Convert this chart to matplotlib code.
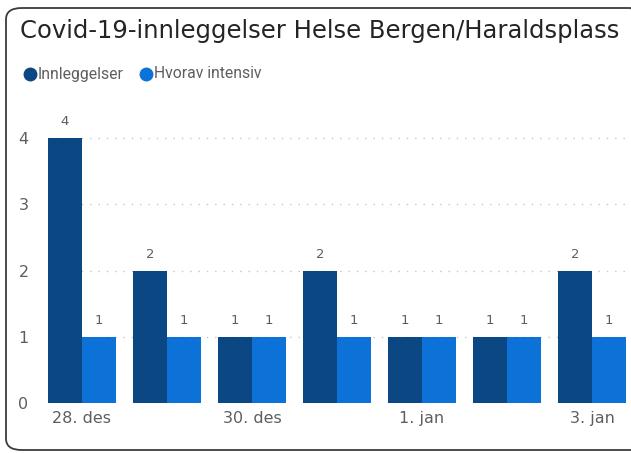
import numpy as np
import matplotlib.pyplot as plt
from matplotlib.patches import FancyBboxPatch
from matplotlib.lines import Line2D

dates = ["28. des", "29. des", "30. des", "31. des", "1. jan", "2. jan", "3. jan"]
innleggelser = [4, 2, 1, 2, 1, 1, 2]
intensiv = [1, 1, 1, 1, 1, 1, 1]
shown_ticks = ["28. des", "", "30. des", "", "1. jan", "", "3. jan"]

dark = "#0B4782"
light = "#0D72D8"
grey = "#605E5C"

W, H = 631, 453
fig = plt.figure(figsize=(W / 100, H / 100), dpi=100)

# card border
fig.patches.append(FancyBboxPatch((6 / W, 3 / H), 640 / W, 442 / H,
                                  boxstyle="round,pad=0,rounding_size=0.025",
                                  transform=fig.transFigure, fill=False,
                                  edgecolor="#3b3b3b", linewidth=1.3))

fig.text(20 / W, 1 - 31 / H, "Covid-19-innleggelser Helse Bergen/Haraldsplass",
         fontsize=17.5, color="#252423", va="center", ha="left", family="DejaVu Sans")

# legend
fig.add_artist(Line2D([30 / W], [1 - 74 / H], marker="o", markersize=9, color=dark,
                      transform=fig.transFigure))
fig.text(38 / W, 1 - 74 / H, "Innleggelser", fontsize=11.3, color=grey, va="center",
         family="Roboto")
fig.add_artist(Line2D([146 / W], [1 - 74 / H], marker="o", markersize=9, color=light,
                      transform=fig.transFigure))
fig.text(154 / W, 1 - 74 / H, "Hvorav intensiv", fontsize=11.3, color=grey, va="center",
         family="Roboto")

ax = fig.add_axes([48 / W, 50 / H, 578 / W, 288 / H])
x = np.arange(len(dates))
w = 0.4
b1 = ax.bar(x - w / 2, innleggelser, w, color=dark, zorder=3)
b2 = ax.bar(x + w / 2, intensiv, w, color=light, zorder=3)
ax.bar_label(b1, padding=7, color=grey, fontsize=9.5)
ax.bar_label(b2, padding=7, color=grey, fontsize=9.5)

ax.set_xlim(-0.4, len(dates) - 0.6)
ax.set_ylim(0, 4.35)
ax.set_yticks([0, 1, 2, 3, 4])
ax.set_xticks(x)
ax.set_xticklabels(shown_ticks)
ax.tick_params(length=0, colors=grey, labelsize=11.5)
ax.tick_params(axis="y", pad=14)
ax.tick_params(axis="x", pad=6)
ax.grid(axis="y", linestyle=(0, (1, 5)), color="#c8c6c4", linewidth=1, zorder=0)
for s in ax.spines.values():
    s.set_visible(False)

fig.savefig("out.png", dpi=100)
